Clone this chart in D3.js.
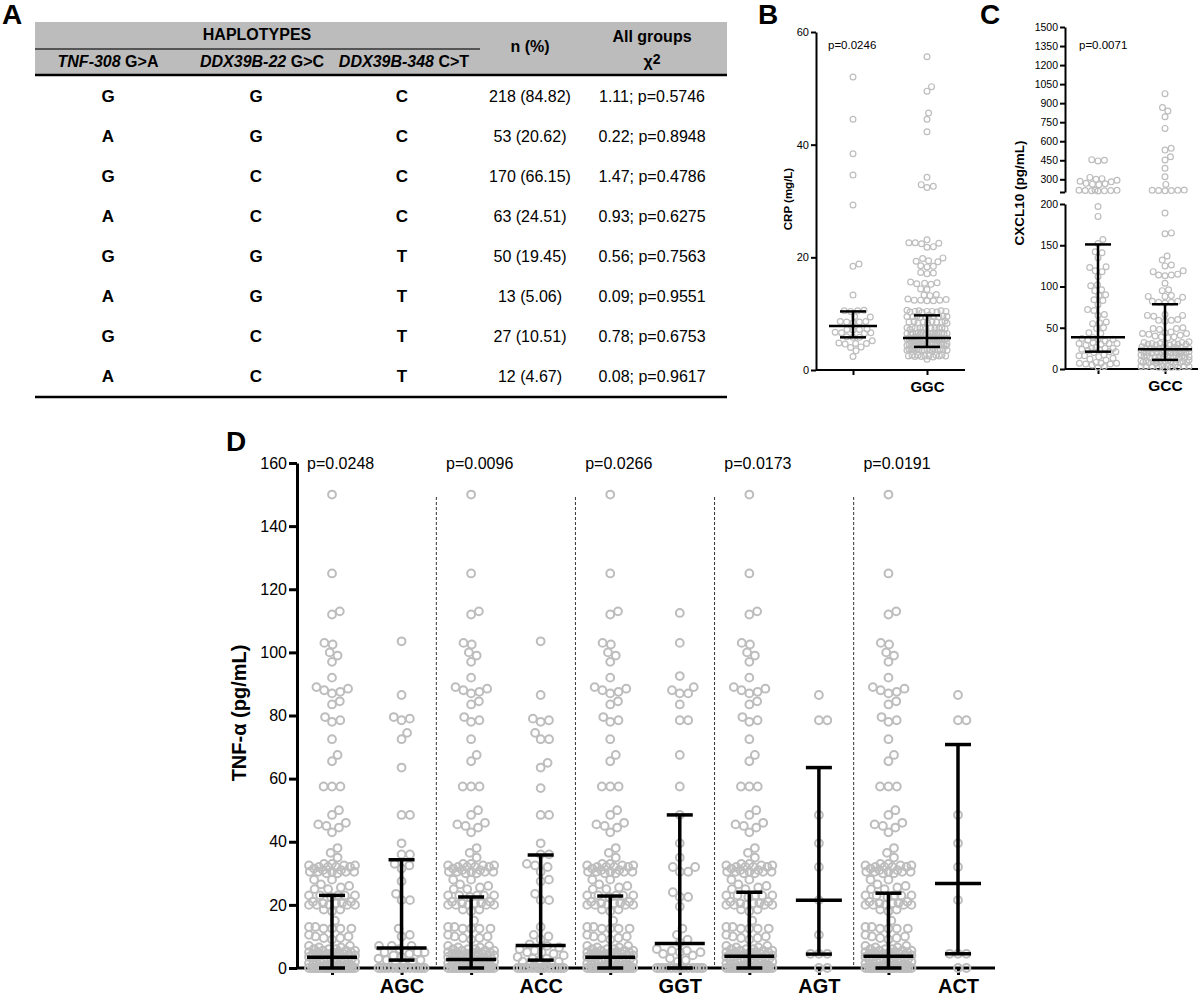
<!DOCTYPE html>
<html><head><meta charset="utf-8">
<script src="https://cdn.jsdelivr.net/npm/d3@7"></script>
<style>body{margin:0;background:#fff} svg{display:block} text{font-family:"Liberation Sans",Arial,sans-serif}</style>
</head><body><svg id="c" width="1200" height="1000"></svg>
<script>
// ---------- Panel A table data ----------
const colTNF308 = ["G","A","G","A","G","A","G","A"];
const colDDX22  = ["G","G","C","C","G","G","C","C"];
const colDDX348 = ["C","C","C","C","T","T","T","T"];
const colNPct   = ["218 (84.82)","53 (20.62)","170 (66.15)","63 (24.51)","50 (19.45)","13 (5.06)","27 (10.51)","12 (4.67)"];
const colChi    = ["1.11; p=0.5746","0.22; p=0.8948","1.47; p=0.4786","0.93; p=0.6275","0.56; p=0.7563","0.09; p=0.9551","0.78; p=0.6753","0.08; p=0.9617"];

// ---------- Panel B (CRP) ----------
const crpLabels = ["", "GGC"];
const crpTicks = [0, 20, 40, 60];
const crpOther = [52,44.5,38.4,34.6,29.3,18.8,18.4,13.3,10.5,10.5,10.4,10.6,9.5,9.4,8.6,8.5,8.4,8.6,8.5,7.2,7.3,7.1,7.2,6.6,6.5,6.7,6.6,5.8,5.8,5.9,4.7,4.8,4.6,4.7,4.1,4.0,3.4,2.4,5.2];
const crpGGC = [55.6,50.3,49.5,45.6,44.5,42.3,34.2,32.6,32.4,32.9,23.1,22.6,22.5,22.4,22.6,21.9,21.8,19.8,19.9,19.3,19.2,19.4,18.4,18.3,18.5,17.2,17.1,17.3,15.4,15.5,15.3,15.6,15.2,14.3,14.4,13.3,13.4,13.2,12.4,12.5,12.3,12.4,12.6,12.4,12.3,
  10.4,10.5,10.3,10.4,10.6,10.4,10.2,10.5,10.4,10.3,9.5,9.6,9.4,9.5,9.7,9.5,9.3,9.6,9.5,9.4,8.5,8.6,8.4,8.5,8.7,8.5,8.3,8.6,8.5,8.4,
  7.4,7.5,7.3,7.4,7.6,7.4,7.2,7.5,7.4,7.3,7.4,7.5,6.5,6.6,6.4,6.5,6.7,6.5,6.3,6.6,6.5,6.4,6.5,6.6,6.4,6.5,6.5,6.6,6.4,6.5,
  5.6,5.7,5.5,5.6,5.8,5.6,5.4,5.7,5.6,5.5,5.6,5.7,5.5,5.6,5.6,5.7,5.5,5.6,5.4,5.8,
  4.5,4.6,4.4,4.5,4.7,4.5,4.3,4.6,4.5,4.4,4.5,4.6,4.4,4.5,4.5,4.6,4.4,4.5,4.3,4.7,4.5,4.6,4.4,4.5,
  3.6,3.7,3.5,3.6,3.8,3.6,3.4,3.7,3.6,3.5,3.6,3.7,3.5,3.6,3.6,3.7,3.5,3.6,
  2.5,2.6,2.4,2.5,2.7,2.5,2.3,2.6,2.5,2.4,2.5,2.6,1.9];
const crpMedian = [7.8, 5.7];
const crpQ1 = [5.8, 4.1];
const crpQ3 = [10.4, 9.7];

// ---------- Panel C (CXCL10) ----------
const cxLabels = ["", "GCC"];
const cxTicksLow = [0, 50, 100, 150, 200];
const cxTicksHigh = [200, 300, 450, 600, 750, 900, 1050, 1200, 1350, 1500];
const cxOther = [455,450,445,315,305,300,292,285,280,268,265,262,258,215,213,211,209,212,214,210,208,
  197,185,157,152,142,141,135,124,123,119,118,112,102,101,96,95,90,89,84,83,78,71,72,65,66,56,55,57,49,50,43,44,
  36,37,35,36,38,34,31,30,32,31,29,31,25,24,26,25,23,25,21,20,22,21,16,15,17,16,12,11,13,7,6,8,7,5,6,7,3,2];
const cxGCC = [975,865,838,793,701,544,530,478,452,387,320,260,215,213,211,214,212,210,
  189,165,164,137,132,126,125,119,118,114,113,115,114,104,96,95,89,88,88,87,82,81,80,82,81,65,66,64,65,59,58,60,59,
  49,48,50,49,43,42,44,43,41,45,39,38,40,39,31,30,32,31,29,33,30,31,32,30,31,29,
  25,24,26,25,23,27,24,25,26,25,24,26,25,24,20,19,21,20,18,22,19,20,21,20,19,21,20,19,
  15,14,16,15,13,17,14,15,16,15,14,16,15,14,9,8,10,9,7,11,8,9,10,9,8,10,9,8,9,10,3,2,4,3,1,5,2,3,4,3,2,3];
const cxMedian = [38.5, 24];
const cxQ1 = [21, 11];
const cxQ3 = [151, 78.5];

// ---------- Panel D (TNF-alpha) ----------
const tnfLabels = ["", "AGC", "", "ACC", "", "GGT", "", "AGT", "", "ACT"];
const tnfPValues = ["p=0.0248", "p=0.0096", "p=0.0266", "p=0.0173", "p=0.0191"];
const tnfTicks = [0, 20, 40, 60, 80, 100, 120, 140, 160];
const tnfNonCarriers = [150,125,113,112,103,102.5,100,99,97,92,89,88.5,88,87.5,87,84.5,83.5,79.5,78.5,78,72.5,67.5,65.5,57.5,57.5,57.5,50,48.5,46,45.5,45,44.5,43,38,36.5,35,
  33,32.5,32.5,32.5,32,32,32,33,32,31.5,31,30.5,30.5,30.5,30.5,30,30.5,31,30,28,28,26.5,26,25.5,25,25,23,23,23,23,23,22.5,21,21,20.5,20.5,20,20,20,20,20,20.5,18.5,18.5,18,
  15,13,12.5,12.5,12.5,12.5,13,10.5,10,10,9.5,9.5,9,7,7,6.5,6.5,6,6,6,5.5,5.5,5.5,5,5,5,5,5,4.5,4.5,4.5,4.5,4,4,4,4,3.5,3.5,3.5,3,3,3,3,2.5,2.5,2.5,2,2,2,2,1.5,1.5,1.5,1,1,1,1,1,0.5,0.5,0.5,0.5,
  0,0,0,0,0,0,0,0,0,0,0,0,0,0,0,0,0,0,0,0,0,0,0,0,0,0,0,0,0,0];
const tnfAGC = [103.5,86.5,79.5,79,78.5,74.5,72.5,63.5,48.5,48.5,39.5,36,36,33,32.5,31.5,27.5,23.5,21.5,21.5,12.5,10.5,10,7,7,7,6,5,5,5,4.5,4,3.5,3,2.5,2.5,2,1.5,1,0,0,0,0,0,0,0,0,0,0,0,0,0,0];
const tnfACC = [103.5,86.5,79,78,78.5,74.5,72.5,72.5,65,63.5,57,48.5,48.5,39.5,36,36,32.5,32,33,30.5,28,27.5,23.5,21.5,21.5,13,10.5,10,9,7.5,7,6.5,6,5.5,5,5,4.5,4,3.5,3,3,2.5,2,2,1.5,1,1,0.5,0,0,0,0,0,0,0,0,0,0,0,0,0,0,0];
const tnfGGT = [112.5,103,92.5,89,88,87,87,83.5,78.5,78.5,67.5,57.5,48.5,39.5,35,32,32,30.5,30.5,24,22.5,22.5,19.5,12.5,10.5,9,8,6,5.5,5.5,5,5,4.5,4,3,2.5,2,0,0,0,0,0,0,0,0,0,0,0,0,0];
const tnfAGT = [86.5,78.5,78.5,48.5,39.5,32,21.5,10.5,4.5,4.5,4.5,0,0];
const tnfACT = [86.5,78.5,78.5,48.5,39.5,32,21.5,4.5,4.5,4.5,0,0];
const tnfMedian = [3.4, 6.3, 2.7, 7.1, 3.4, 7.8, 3.7, 21.5, 3.7, 26.8];
const tnfQ1 = [0, 2.5, 0, 2.5, 0, 0, 0, 4.4, 0, 4.5];
const tnfQ3 = [23, 34.3, 22.5, 35.8, 22.8, 48.5, 24, 63.5, 23.7, 70.8];

// ---------- helpers ----------
const FONT = "Liberation Sans, Arial, sans-serif";
const PT = "#bdbdbd";
const svg = d3.select("#c");

function swarm(values, yf, r, maxHalf) {
  const d = 2 * r + 0.6;
  const pts = values.map((v, i) => ({ v, i, y: yf(v), x: 0 })).sort((a, b) => (b.y - a.y) || (a.i - b.i));
  const placed = [];
  for (const p of pts) {
    const near = placed.filter(q => Math.abs(q.y - p.y) < d);
    const ok = x => near.every(q => (q.x - x) ** 2 + (q.y - p.y) ** 2 >= d * d - 0.01);
    let cands = [0];
    near.forEach(q => { const dx = Math.sqrt(d * d - (q.y - p.y) ** 2); cands.push(q.x + dx, q.x - dx); });
    cands = cands.filter(x => Math.abs(x) <= maxHalf + 0.01 && ok(x)).sort((a, b) => Math.abs(a) - Math.abs(b));
    if (cands.length) p.x = cands[0];
    else {
      let best = 0, bestScore = -Infinity;
      for (let x = -maxHalf; x <= maxHalf; x += 1) {
        const md = near.reduce((m, q) => Math.min(m, Math.hypot(q.x - x, q.y - p.y)), Infinity);
        const s = md - Math.abs(x) * 0.001;
        if (s > bestScore) { bestScore = s; best = x; }
      }
      p.x = best;
    }
    placed.push(p);
  }
  return pts;
}

function drawPoints(g, values, cx, yf, r, sw, maxHalf) {
  const pts = swarm(values, yf, r, maxHalf);
  g.selectAll(null).data(pts).enter().append("circle")
    .attr("cx", d => cx + d.x).attr("cy", d => d.y).attr("r", r)
    .attr("fill", "none").attr("stroke", PT).attr("stroke-width", sw);
}

function drawErr(g, cx, med, q1, q3, yf, medHalf, capHalf, sw) {
  const gg = g.append("g").attr("stroke", "#000").attr("stroke-width", sw);
  gg.append("line").attr("x1", cx).attr("x2", cx).attr("y1", yf(q1)).attr("y2", yf(q3));
  gg.append("line").attr("x1", cx - medHalf).attr("x2", cx + medHalf).attr("y1", yf(med)).attr("y2", yf(med));
  gg.append("line").attr("x1", cx - capHalf).attr("x2", cx + capHalf).attr("y1", yf(q1)).attr("y2", yf(q1));
  gg.append("line").attr("x1", cx - capHalf).attr("x2", cx + capHalf).attr("y1", yf(q3)).attr("y2", yf(q3));
}

function styleAxis(g, sw, fs, bold) {
  g.attr("font-family", FONT);
  g.select(".domain").attr("stroke-width", sw).attr("stroke", "#000");
  g.selectAll(".tick line").attr("stroke-width", sw).attr("stroke", "#000");
  g.selectAll(".tick text").attr("font-size", fs).attr("fill", "#000").attr("font-weight", bold ? "bold" : "normal");
}

function panelLabel(t, x, y) {
  svg.append("text").attr("x", x).attr("y", y).attr("font-size", 28).attr("font-weight", "bold").attr("font-family", FONT).text(t);
}

// ---------- Panel A ----------
panelLabel("A", 2, 24);
const tA = svg.append("g").attr("font-family", FONT);
tA.append("rect").attr("x", 35).attr("y", 22).attr("width", 692).attr("height", 53).attr("fill", "#bcbcbc");
tA.append("line").attr("x1", 35).attr("x2", 480).attr("y1", 49).attr("y2", 49).attr("stroke", "#333").attr("stroke-width", 1.5);
tA.append("line").attr("x1", 35).attr("x2", 727).attr("y1", 75).attr("y2", 75).attr("stroke", "#000").attr("stroke-width", 2.5);
tA.append("line").attr("x1", 35).attr("x2", 727).attr("y1", 397).attr("y2", 397).attr("stroke", "#000").attr("stroke-width", 2.5);
const hdr = (x, y, parts) => {
  const t = tA.append("text").attr("x", x).attr("y", y).attr("text-anchor", "middle").attr("font-size", 16).attr("font-weight", "bold");
  parts.forEach(p => t.append("tspan").attr("font-style", p[1] ? "italic" : "normal").text(p[0]));
  return t;
};
hdr(257, 40, [["HAPLOTYPES", false]]);
hdr(108, 67, [["TNF-308", true], [" G>A", false]]);
hdr(262, 67, [["DDX39B-22", true], [" G>C", false]]);
hdr(404, 67, [["DDX39B-348", true], [" C>T", false]]);
hdr(530, 52, [["n (%)", false]]);
hdr(652, 42, [["All groups", false]]);
const chiT = tA.append("text").attr("x", 652).attr("y", 67).attr("text-anchor", "middle").attr("font-size", 16).attr("font-weight", "bold");
chiT.append("tspan").text("χ");
chiT.append("tspan").attr("dy", -3).attr("font-size", 14).text("2");
const rowY = d3.scaleLinear().domain([0, 7]).range([96, 376]);
[[colTNF308, 108, true], [colDDX22, 256, true], [colDDX348, 402, true], [colNPct, 530, false], [colChi, 652, false]].forEach(([arr, x, b]) => {
  tA.selectAll(null).data(arr).enter().append("text")
    .attr("x", x).attr("y", (d, i) => rowY(i) + 6).attr("text-anchor", "middle")
    .attr("font-size", b ? 17 : 16).attr("font-weight", b ? "bold" : "normal").text(d => d);
});

// ---------- Panel B ----------
panelLabel("B", 758, 24);
const gB = svg.append("g");
const yB = d3.scaleLinear().domain([0, 60]).range([370, 32]);
const xB = d3.scalePoint().domain([0, 1]).range([853, 927]);
const axBy = gB.append("g").attr("transform", "translate(816,0)").call(d3.axisLeft(yB).tickValues(crpTicks).tickSize(5).tickPadding(2).tickSizeOuter(0));
styleAxis(axBy, 2, 11, false);
gB.append("line").attr("x1", 816).attr("x2", 965).attr("y1", 370).attr("y2", 370).attr("stroke", "#000").attr("stroke-width", 2);
const axBx = gB.append("g").attr("transform", "translate(0,370)").call(d3.axisBottom(xB).tickSize(5).tickPadding(6).tickFormat(i => crpLabels[i]));
axBx.select(".domain").remove();
styleAxis(axBx, 2, 15, true);
drawPoints(gB, crpOther, xB(0), yB, 2.9, 1.2, 20);
drawPoints(gB, crpGGC, xB(1), yB, 2.9, 1.2, 20);
[0, 1].forEach(i => drawErr(gB, xB(i), crpMedian[i], crpQ1[i], crpQ3[i], yB, 24, 13, 2.5));
gB.append("text").attr("x", 828).attr("y", 49).attr("font-size", 11.5).attr("font-family", FONT).text("p=0.0246");
gB.append("text").attr("transform", "translate(792,199) rotate(-90)").attr("text-anchor", "middle")
  .attr("font-size", 11.5).attr("font-weight", "bold").attr("font-family", FONT).text("CRP (mg/L)");

// ---------- Panel C ----------
panelLabel("C", 980, 24);
const gC = svg.append("g");
const yCl = d3.scaleLinear().domain([0, 200]).range([369, 204]);
const yCh = d3.scaleLinear().domain([200, 1500]).range([192, 27]);
const yC = v => v <= 200 ? yCl(v) : yCh(v);
const xC = d3.scalePoint().domain([0, 1]).range([1098, 1165]);
const axCl = gC.append("g").attr("transform", "translate(1065,0)").call(d3.axisLeft(yCl).tickValues(cxTicksLow).tickSize(5).tickPadding(2).tickSizeOuter(0));
styleAxis(axCl, 2, 10.5, false);
const axCh = gC.append("g").attr("transform", "translate(1065,0)").call(d3.axisLeft(yCh).tickValues(cxTicksHigh).tickSize(5).tickPadding(2).tickSizeOuter(0).tickFormat(v => v === 200 ? "" : v));
styleAxis(axCh, 2, 10.5, false);
gC.append("line").attr("x1", 1065).attr("x2", 1198).attr("y1", 369).attr("y2", 369).attr("stroke", "#000").attr("stroke-width", 2);
const axCx = gC.append("g").attr("transform", "translate(0,369)").call(d3.axisBottom(xC).tickSize(5).tickPadding(6).tickFormat(i => cxLabels[i]));
axCx.select(".domain").remove();
styleAxis(axCx, 2, 15.5, true);
drawPoints(gC, cxOther, xC(0), yC, 2.9, 1.2, 19);
drawPoints(gC, cxGCC, xC(1), yC, 2.9, 1.2, 24);
[0, 1].forEach(i => drawErr(gC, xC(i), cxMedian[i], cxQ1[i], cxQ3[i], yC, 27, 13, 2.5));
gC.append("text").attr("x", 1079).attr("y", 49).attr("font-size", 11.5).attr("font-family", FONT).text("p=0.0071");
gC.append("text").attr("transform", "translate(1024,193) rotate(-90)").attr("text-anchor", "middle")
  .attr("font-size", 13.5).attr("font-weight", "bold").attr("font-family", FONT).text("CXCL10 (pg/mL)");

// ---------- Panel D ----------
panelLabel("D", 226, 451);
const gD = svg.append("g");
const yD = d3.scaleLinear().domain([0, 160]).range([968, 463]);
const xD = d3.scalePoint().domain(d3.range(10)).range([332, 958]);
// dashed separators
[1.5, 3.5, 5.5, 7.5].forEach(k => {
  const x = (xD(Math.floor(k)) + xD(Math.ceil(k))) / 2;
  gD.append("line").attr("x1", x).attr("x2", x).attr("y1", 497).attr("y2", 968)
    .attr("stroke", "#333").attr("stroke-width", 1).attr("stroke-dasharray", "3,2");
});
const axDy = gD.append("g").attr("transform", "translate(297,0)").call(d3.axisLeft(yD).tickValues(tnfTicks).tickSize(8).tickPadding(2).tickSizeOuter(0));
styleAxis(axDy, 3, 16, false);
gD.append("line").attr("x1", 297).attr("x2", 995).attr("y1", 968).attr("y2", 968).attr("stroke", "#000").attr("stroke-width", 3);
const axDx = gD.append("g").attr("transform", "translate(0,968)").call(d3.axisBottom(xD).tickSize(7).tickPadding(4).tickFormat(i => tnfLabels[i]));
axDx.select(".domain").remove();
styleAxis(axDx, 3, 20, true);
const tnfGroups = [tnfNonCarriers, tnfAGC, tnfNonCarriers, tnfACC, tnfNonCarriers, tnfGGT, tnfNonCarriers, tnfAGT, tnfNonCarriers, tnfACT];
tnfGroups.forEach((vals, i) => drawPoints(gD, vals, xD(i), yD, 3.9, 2, 23));
d3.range(10).forEach(i => {
  const small = tnfGroups[i].length < 20;
  drawErr(gD, xD(i), tnfMedian[i], tnfQ1[i], tnfQ3[i], yD, small ? 23 : 25, 13, 3.5);
});
tnfPValues.forEach((p, k) => {
  gD.append("text").attr("x", xD(2 * k) - 25).attr("y", 469).attr("font-size", 16).attr("font-family", FONT).text(p);
});
gD.append("text").attr("transform", "translate(246,713) rotate(-90)").attr("text-anchor", "middle")
  .attr("font-size", 20).attr("font-weight", "bold").attr("font-family", FONT).text("TNF-α (pg/mL)");
</script></body></html>
